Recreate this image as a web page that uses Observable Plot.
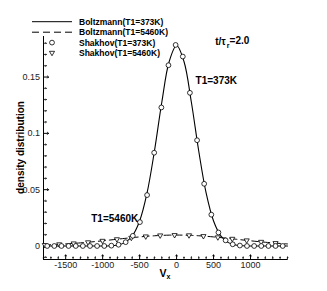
<!DOCTYPE html>
<html><head><meta charset="utf-8">
<script src="https://cdn.jsdelivr.net/npm/d3@7"></script>
<script src="https://cdn.jsdelivr.net/npm/@observablehq/plot@0.6"></script>
<style>body{margin:0;background:#fff}#chart{width:327px;height:291px}</style>
</head><body><div id="chart"></div>
<script>
// Boltzmann curves (velocity grid, m/s)
const vGrid = [-1800,-1700,-1600,-1500,-1400,-1300,-1200,-1100,-1000,-900,-800,-700,-600,-500,-400,-300,-200,-100,0,100,200,300,400,500,600,700,800,900,1000,1100,1200,1300,1400,1500];
const boltz373 = [0,0,0,0,0,0,0,0,0,0.0002,0.0009,0.0030,0.0089,0.0222,0.0469,0.0841,0.1276,0.1638,0.1780,0.1638,0.1276,0.0841,0.0469,0.0222,0.0089,0.0030,0.0009,0.0002,0,0,0,0,0,0];
const boltz5460 = [0.00087,0.00113,0.00145,0.00182,0.00226,0.00276,0.00332,0.00394,0.00461,0.00531,0.00603,0.00674,0.00742,0.00805,0.00861,0.00907,0.00942,0.00963,0.0097,0.00963,0.00942,0.00907,0.00861,0.00805,0.00742,0.00674,0.00603,0.00531,0.00461,0.00394,0.00332,0.00276,0.00226,0.00182];
// Shakhov samples
const vS373 = [-1750,-1654,-1557,-1461,-1364,-1268,-1171,-1075,-978,-882,-785,-689,-592,-496,-399,-303,-206,-110,-13,84,180,277,373,470,566,663,759,856,952,1049,1145,1242,1338,1435];
const shakhov373 = [0,0,0,0,0,0,0,0,0,0.0003,0.0011,0.0034,0.0090,0.0212,0.0452,0.0828,0.1230,0.1605,0.1785,0.1682,0.1360,0.0939,0.0552,0.0278,0.0120,0.0050,0.0015,0.0004,0,0,0,0,0,0];
const vS5460 = [-1782,-1587,-1392,-1197,-1002,-807,-612,-417,-222,-27,168,363,558,753,948,1143,1338];
const shakhov5460 = [0.0009,0.0015,0.0023,0.0033,0.0046,0.0060,0.0073,0.0085,0.0094,0.0097,0.0095,0.0088,0.0077,0.0064,0.0050,0.0037,0.0026];
// axes
const xDomain = [-1800, 1500];
const yDomain = [-0.012, 0.186];
const xMajor = [-1500,-1000,-500,0,500,1000];
const yMajor = [0,0.05,0.1,0.15];
const xMinor = d3.range(-1800, 1501, 100).filter(v => !xMajor.includes(v));
const yMinor = d3.range(-1, 19).map(i => i / 100).filter(v => !yMajor.some(m => Math.abs(m - v) < 1e-9));
const legendLabels = ["Boltzmann(T1=373K)","Boltzmann(T1=5460K)","Shakhov(T1=373K)","Shakhov(T1=5460K)"];
const annotations = [
  {v: 257, f: 0.147, label: "T1=373K"},
  {v: -1154, f: 0.024, label: "T1=5460K"}
];

const b373 = vGrid.map((v,i)=>({v, f: boltz373[i]}));
const b5460 = vGrid.map((v,i)=>({v, f: boltz5460[i]}));
const s373 = vS373.map((v,i)=>({v, f: shakhov373[i]}));
const s5460 = vS5460.map((v,i)=>({v, f: shakhov5460[i]}));

const triDown = {
  draw(ctx, size) {
    const s3 = Math.sqrt(3);
    const y = Math.sqrt(size / (s3 * 3));
    ctx.moveTo(0, 2 * y);
    ctx.lineTo(-s3 * y, -y);
    ctx.lineTo(s3 * y, -y);
    ctx.closePath();
  }
};

const font = "'Liberation Sans', Arial, Helvetica, sans-serif";
const plot = Plot.plot({
  width: 327, height: 291,
  marginTop: 36, marginBottom: 32, marginLeft: 43, marginRight: 40,
  style: {fontFamily: font, fontSize: "9px", background: "white", color: "#000", overflow: "visible"},
  x: {domain: xDomain},
  y: {domain: yDomain},
  marks: [
    Plot.axisX(xMajor, {tickSize: 0, tickPadding: 2.5, tickFormat: d => String(d), label: null, fill: "#222"}),
    Plot.axisY(yMajor, {tickSize: 0, tickPadding: 3.5, tickFormat: d => String(d), label: null, fill: "#222"}),
    Plot.ruleX([xDomain[0]], {strokeWidth: 1}),
    Plot.ruleY([yDomain[0]], {strokeWidth: 1}),
    Plot.vector(xMajor, {x: d => d, frameAnchor: "bottom", rotate: 0, length: 4.5, anchor: "start", strokeWidth: 1}),
    Plot.vector(xMinor, {x: d => d, frameAnchor: "bottom", rotate: 0, length: 2.5, anchor: "start", strokeWidth: 0.8}),
    Plot.vector(yMajor, {y: d => d, frameAnchor: "left", rotate: 90, length: 5, anchor: "start", strokeWidth: 1}),
    Plot.vector(yMinor, {y: d => d, frameAnchor: "left", rotate: 90, length: 2.8, anchor: "start", strokeWidth: 0.8}),
    Plot.line(b5460, {x: "v", y: "f", curve: "catmull-rom", stroke: "black", strokeWidth: 1, strokeDasharray: "7,4"}),
    Plot.line(b373, {x: "v", y: "f", curve: "catmull-rom", stroke: "black", strokeWidth: 1.1}),
    Plot.dot(s5460, {x: "v", y: "f", symbol: triDown, r: 1.9, fill: "white", stroke: "black", strokeWidth: 0.8}),
    Plot.dot(s373, {x: "v", y: "f", r: 2.4, fill: "white", stroke: "black", strokeWidth: 0.8}),
    Plot.text(annotations, {x: "v", y: "f", text: "label", textAnchor: "start", fontWeight: "bold", fontSize: 10, fill: "#000"})
  ]
});
document.getElementById("chart").appendChild(plot);

const svg = d3.select(plot);
const sx = plot.scale("x"), sy = plot.scale("y");
// t/τ_r annotation
const tt = svg.append("text").attr("x", sx.apply(530)).attr("y", sy.apply(0.181)).attr("dy", "0.35em")
  .attr("text-anchor", "start")
  .attr("font-family", font).attr("font-size", 10).attr("font-weight", "bold").attr("fill", "#000");
tt.append("tspan").text("t/τ");
tt.append("tspan").attr("font-size", 7).attr("dy", "0.35em").attr("dx", 1).text("r");
tt.append("tspan").attr("dy", "-0.35em").text("=2.0");

// axis titles
svg.append("text").attr("transform", `translate(23.5,${(36 + 259) / 2}) rotate(-90)`)
  .attr("text-anchor", "middle").attr("font-family", font).attr("font-size", 10).attr("font-weight", "bold")
  .text("density distribution");
const vx = svg.append("text").attr("x", (43 + 287) / 2).attr("y", 277).attr("text-anchor", "middle")
  .attr("font-family", font).attr("font-size", 10.5).attr("font-weight", "bold");
vx.append("tspan").text("V");
vx.append("tspan").attr("font-size", 7).attr("dy", 2).text("x");

// legend
const lg = svg.append("g").attr("font-family", font).attr("font-size", 8.5).attr("font-weight", "bold").attr("text-anchor", "start");
const rows = [21.7, 32.2, 42.6, 52.8];
lg.append("line").attr("x1", 32).attr("x2", 72).attr("y1", rows[0]).attr("y2", rows[0]).attr("stroke", "black");
lg.append("line").attr("x1", 32).attr("x2", 72).attr("y1", rows[1]).attr("y2", rows[1]).attr("stroke", "black").attr("stroke-dasharray", "7,4");
lg.append("circle").attr("cx", 52).attr("cy", rows[2]).attr("r", 2.4).attr("fill", "white").attr("stroke", "black").attr("stroke-width", 0.8);
lg.append("path").attr("transform", `translate(52,${rows[3]})`).attr("d", d3.symbol(triDown, 1.9 * 1.9 * Math.PI)()).attr("fill", "white").attr("stroke", "black").attr("stroke-width", 0.8);
legendLabels.forEach((t, i) => {
  lg.append("text").attr("x", 79).attr("y", rows[i]).attr("dy", "0.35em").attr("text-anchor", "start").text(t);
});
</script>
</body></html>
